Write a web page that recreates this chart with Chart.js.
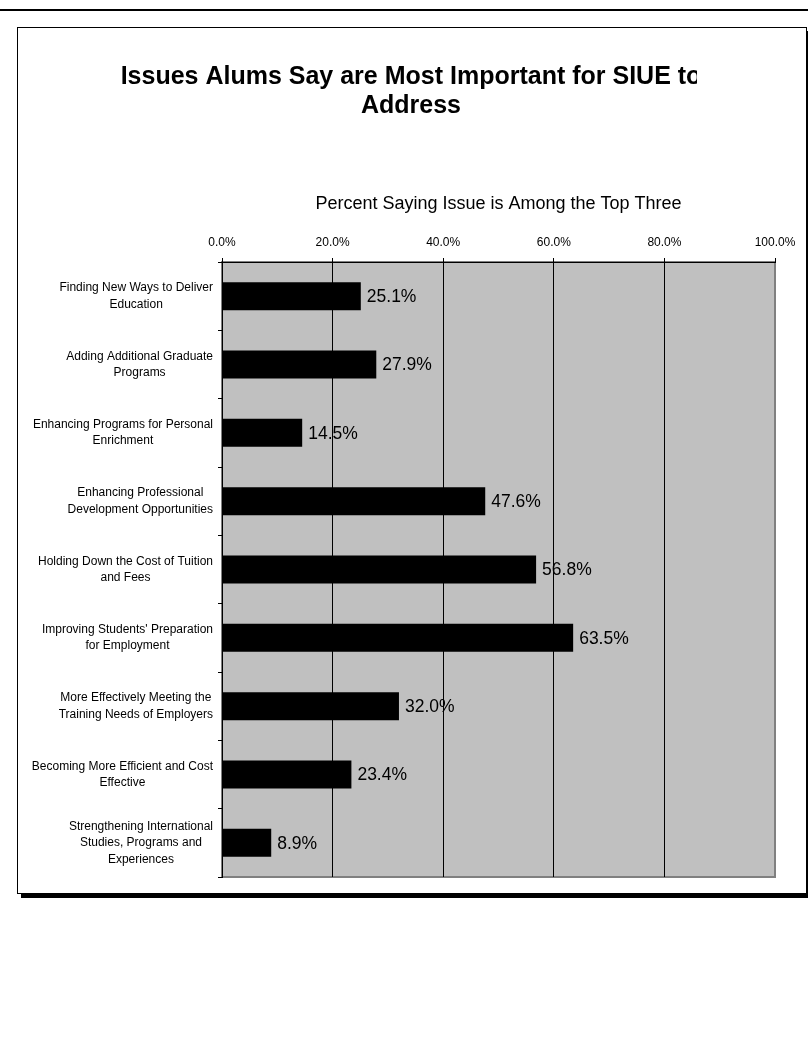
<!DOCTYPE html>
<html>
<head>
<meta charset="utf-8">
<title>Issues Alums Say are Most Important for SIUE to Address</title>
<script src="https://cdn.jsdelivr.net/npm/chart.js@4/dist/chart.umd.min.js"></script>
<style>
  html, body { margin: 0; padding: 0; background: #fff; }
  body { width: 808px; height: 1048px; position: relative; overflow: hidden; }
  #topRule { position: absolute; left: 0; top: 9px; width: 808px; height: 2px; background: #000; }
  #frame {
    position: absolute; left: 17px; top: 27px; width: 788px; height: 865px;
    border: 1px solid #000; box-shadow: 4px 4px 0 #000; background: #fff;
  }
  #wrap { position: absolute; left: 0; top: 0; width: 808px; height: 1048px; }
</style>
</head>
<body>
<div id="topRule"></div>
<div id="frame"></div>
<div id="wrap"><canvas id="myChart" width="808" height="1048"></canvas></div>
<script>
// chart data
const titleLines = ['Issues Alums Say are Most Important for SIUE to', 'Address'];
const axisTitle = 'Percent Saying Issue is Among the Top Three';
const categories = [
  ['Finding New Ways to Deliver', 'Education'],
  ['Adding Additional Graduate', 'Programs'],
  ['Enhancing Programs for Personal', 'Enrichment'],
  ['Enhancing Professional', 'Development Opportunities'],
  ['Holding Down the Cost of Tuition', 'and Fees'],
  ["Improving Students' Preparation", 'for Employment'],
  ['More Effectively Meeting the', 'Training Needs of Employers'],
  ['Becoming More Efficient and Cost', 'Effective'],
  ['Strengthening International', 'Studies, Programs and', 'Experiences']
];
const percents = [25.1, 27.9, 14.5, 47.6, 56.8, 63.5, 32.0, 23.4, 8.9];
const xTicks = [0, 20, 40, 60, 80, 100];

const canvas = document.getElementById('myChart');
const ctx = canvas.getContext('2d');
const FONT = 'Arial, "Liberation Sans", Helvetica, sans-serif';

// gray plot area, value labels (under the gridlines, like the original)
const plotBackground = {
  id: 'plotBackground',
  beforeDraw(chart) {
    const c = chart.ctx;
    const a = chart.chartArea;
    c.save();
    c.fillStyle = '#c0c0c0';
    c.fillRect(a.left, a.top, a.right - a.left, a.bottom - a.top);
    c.strokeStyle = '#808080';
    c.lineWidth = 2;
    c.strokeRect(a.left, a.top, a.right - a.left, a.bottom - a.top);

    // value labels right of each bar
    c.fillStyle = '#000';
    c.font = '17.5px ' + FONT;
    c.textAlign = 'left';
    c.textBaseline = 'middle';
    const meta = chart.getDatasetMeta(0);
    meta.data.forEach((bar, i) => {
      c.fillText(percents[i].toFixed(1) + '%', bar.x + 6, bar.y + 1);
    });
    c.restore();
  }
};

// category labels: right aligned block, lines centred inside it
const categoryLabels = {
  id: 'categoryLabels',
  afterDraw(chart) {
    const c = chart.ctx;
    const yScale = chart.scales.y;
    const rightEdge = chart.chartArea.left - 9;
    const lineH = 16.5;
    c.save();
    c.fillStyle = '#000';
    c.font = '12px ' + FONT;
    c.textAlign = 'center';
    c.textBaseline = 'middle';
    categories.forEach((lines, i) => {
      const yMid = yScale.getPixelForValue(i);
      const widest = Math.max(...lines.map(l => c.measureText(l).width));
      const cx = rightEdge - widest / 2;
      lines.forEach((l, j) => {
        c.fillText(l, cx, yMid + (j - (lines.length - 1) / 2) * lineH);
      });
    });
    c.restore();
  }
};

// main title, clipped on the right like the original text box
const clippedTitle = {
  id: 'clippedTitle',
  afterDraw(chart) {
    const c = chart.ctx;
    c.save();
    c.beginPath();
    c.rect(20, 30, 677, 110);
    c.clip();
    c.fillStyle = '#000';
    c.font = 'bold 25px ' + FONT;
    c.textAlign = 'center';
    c.textBaseline = 'alphabetic';
    titleLines.forEach((t, i) => {
      c.fillText(t, 411, 84 + i * 29);
    });
    c.restore();
  }
};

const myChart = new Chart(ctx, {
  type: 'bar',
  data: {
    labels: categories,
    datasets: [{
      data: percents,
      backgroundColor: '#000',
      borderColor: '#000',
      borderWidth: 0,
      barPercentage: 0.41,
      categoryPercentage: 1
    }]
  },
  options: {
    indexAxis: 'y',
    responsive: false,
    animation: false,
    events: [],
    layout: { padding: { left: 20, right: 33, top: 180, bottom: 171 } },
    plugins: {
      legend: { display: false },
      title: { display: false },
      tooltip: { enabled: false }
    },
    scales: {
      x: {
        position: 'top',
        min: 0,
        max: 100,
        afterBuildTicks: scale => {
          scale.ticks = xTicks.map(v => ({ value: v }));
        },
        afterFit: scale => { scale.height = 82; },
        ticks: {
          color: '#000',
          padding: 8,
          font: { family: FONT, size: 12 },
          callback: v => Number(v).toFixed(1) + '%'
        },
        grid: {
          color: ctx2 => (ctx2.index === xTicks.length - 1 ? '#808080' : '#000'),
          lineWidth: 1,
          drawTicks: true,
          tickLength: 4,
          tickColor: '#000'
        },
        border: { display: true, color: '#000', width: 1 },
        title: {
          display: true,
          text: axisTitle,
          color: '#000',
          font: { family: FONT, size: 18 },
          padding: { top: 13, bottom: 0 }
        }
      },
      y: {
        offset: true,
        afterFit: scale => { scale.width = 202; },
        ticks: { display: false },
        grid: {
          offset: true,
          drawOnChartArea: false,
          drawTicks: true,
          tickLength: 4,
          color: '#000'
        },
        border: { display: true, color: '#000', width: 1 }
      }
    }
  },
  plugins: [plotBackground, categoryLabels, clippedTitle]
});
</script>
</body>
</html>
